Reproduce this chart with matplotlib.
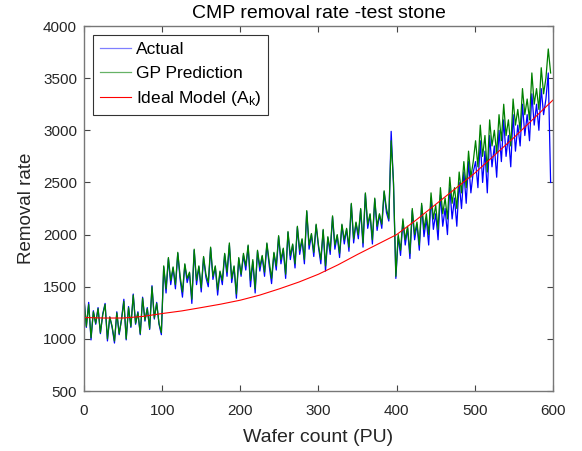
import numpy as np
import matplotlib
matplotlib.use("Agg")
import matplotlib.pyplot as plt

plt.rcParams['font.family'] = ['Liberation Sans', 'DejaVu Sans']
plt.rcParams['mathtext.fontset'] = 'custom'
plt.rcParams['mathtext.rm'] = 'Liberation Sans'
plt.rcParams['mathtext.it'] = 'Liberation Sans'

# wafer index, one sample every 3 wafers (0 .. 597)
wafer = np.arange(0, 600, 3)

# GP prediction (green)
gp_pred = [
    # 0 - 99
    1380, 1120, 1330, 1010, 1260, 1150, 1290, 1060, 1230, 1330, 1000, 1210, 1120, 980, 1250, 1050, 1180,
    1360, 1000, 1300, 1120, 1420, 1150, 1250, 1050, 1390, 1180, 1290, 1100, 1500, 1200, 1340, 1150, 1060,
    # 102 - 198
    1700, 1480, 1780, 1560, 1690, 1520, 1830, 1600, 1450, 1720, 1580, 1640, 1380, 1860, 1560, 1700, 1490,
    1790, 1620, 1540, 1880, 1600, 1700, 1470, 1650, 1560, 1820, 1640, 1920, 1580, 1700, 1430, 1780,
    # 201 - 297
    1620, 1820, 1700, 1900, 1560, 1760, 1480, 1850, 1690, 1800, 1640, 1920, 1740, 1580, 1830, 1700, 1990,
    1760, 1870, 1620, 2030, 1800, 1910, 1720, 2080, 1850, 1960, 1760, 2230, 1900, 2010, 1830, 2100,
    # 300 - 396
    1900, 1760, 2050, 1700, 1980, 1850, 2180, 1900, 2000, 1820, 2100, 1950, 2060, 1880, 2300, 1960, 2120,
    2000, 2250, 1920, 2400, 2100, 2200, 1950, 2350, 2080, 2200, 2100, 2420, 2250, 2150, 2900, 2500,
    # 399 - 498
    1600, 2000, 1850, 2150, 1950, 2080, 1820, 2250, 2000, 2120, 1900, 2300, 2050, 2200, 2000, 2400, 2150,
    2280, 2050, 2450, 2200, 2350, 2150, 2550, 2300, 2450, 2250, 2600, 2400, 2700, 2450, 2800, 2550, 2700,
    # 501 - 597
    2900, 2650, 3050, 2750, 2950, 2600, 3100, 2850, 3000, 2780, 3150, 2900, 3250, 2950, 3100, 2850, 3300,
    3050, 3200, 3000, 3400, 3150, 3300, 3100, 3550, 3250, 3400, 3200, 3600, 3350, 3500, 3780, 3550,
]

# measured removal rate (blue)
actual = [
    1400, 1110, 1350, 990, 1270, 1140, 1300, 1050, 1240, 1340, 980, 1210, 1110, 960, 1260, 1040, 1190,
    1380, 990, 1310, 1110, 1430, 1140, 1260, 1040, 1400, 1170, 1300, 1090, 1510, 1190, 1350, 1140, 1040,
    1690, 1440, 1770, 1520, 1680, 1480, 1820, 1570, 1400, 1710, 1540, 1630, 1340, 1850, 1520, 1690, 1450,
    1780, 1590, 1500, 1870, 1570, 1690, 1420, 1640, 1520, 1810, 1600, 1900, 1540, 1690, 1390, 1770,
    1600, 1800, 1660, 1890, 1500, 1740, 1440, 1840, 1650, 1790, 1600, 1910, 1700, 1530, 1820, 1660, 1980,
    1720, 1860, 1580, 2020, 1760, 1900, 1680, 2070, 1810, 1950, 1720, 2220, 1860, 2000, 1790, 2090,
    1880, 1720, 2040, 1650, 1970, 1810, 2170, 1860, 1990, 1780, 2090, 1910, 2050, 1840, 2290, 1920, 2110,
    1960, 2240, 1880, 2390, 2060, 2190, 1910, 2340, 2040, 2190, 2060, 2410, 2210, 2130, 2990, 2480,
    1580, 1980, 1800, 2130, 1900, 2060, 1770, 2230, 1950, 2100, 1850, 2280, 1980, 2150, 1900, 2350, 2050,
    2200, 1950, 2380, 2080, 2250, 2000, 2450, 2150, 2350, 2080, 2500, 2250, 2600, 2300, 2700, 2400, 2600,
    2700, 2450, 2900, 2500, 2800, 2400, 2950, 2650, 2850, 2550, 3000, 2700, 3100, 2750, 2950, 2650, 3150,
    2800, 3050, 2850, 3250, 2950, 3150, 2900, 3350, 3050, 3250, 3000, 3400, 3150, 3300, 3550, 2500,
]

# ideal model A_k (red), sampled along the curve
ideal_x = [0, 25, 50, 75, 100, 125, 150, 175, 200, 225, 250, 275, 300,
           325, 350, 375, 400, 425, 450, 475, 500, 525, 550, 575, 600]
ideal_y = [1205, 1200, 1200, 1215, 1243, 1268, 1300, 1333, 1371, 1420, 1480, 1545, 1620,
           1710, 1810, 1905, 2000, 2140, 2290, 2440, 2590, 2760, 2930, 3110, 3290]

fig = plt.figure(figsize=(5.82, 4.51), dpi=100)
ax = fig.add_axes([0.1443, 0.133, 0.8058, 0.8093])

ax.plot(wafer, actual, color='#0000ff', lw=0.9, label='Actual')
ax.plot(wafer, gp_pred, color='#008000', lw=0.9, label='GP Prediction')
ax.plot(ideal_x, ideal_y, color='#ff0000', lw=0.8, label='Ideal Model (A$_{\\rm k}$)')

ax.set_xlim(0, 600)
ax.set_ylim(500, 4000)
ax.set_xticks(range(0, 601, 100))
ax.set_yticks(range(500, 4001, 500))
ax.tick_params(direction='in', top=True, right=True, labelsize=11, length=4,
               color='#444444', labelcolor='#262626')
ax.tick_params(axis='y', pad=5)
ax.tick_params(axis='x', pad=9)
for s in ax.spines.values():
    s.set_color('#777777')
    s.set_linewidth(1.0)

ax.set_title('CMP removal rate -test stone', fontsize=14, color='black', pad=6)
ax.set_xlabel('Wafer count (PU)', fontsize=14, color='#262626', labelpad=8)
ax.set_ylabel('Removal rate', fontsize=13.5, color='#262626', labelpad=6)

leg = ax.legend(loc='upper left', fontsize=12.5, frameon=True, fancybox=False,
                handlelength=1.8, handletextpad=0.3, borderpad=0.4, labelspacing=0.5,
                borderaxespad=0.5)
leg.get_frame().set_edgecolor('black')
leg.get_frame().set_linewidth(0.8)
leg.legend_handles[0].set_alpha(0.5)
leg.legend_handles[1].set_alpha(0.6)

fig.savefig('out.png', dpi=100)
